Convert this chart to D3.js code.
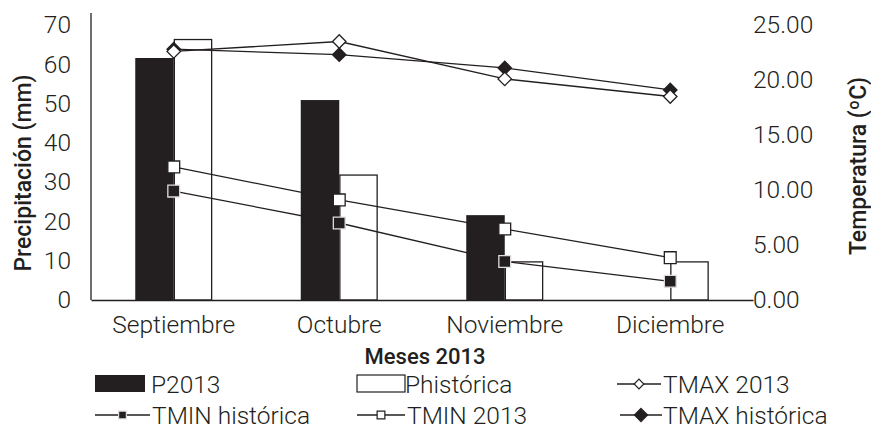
<!DOCTYPE html>
<html><head><meta charset="utf-8">
<script src="https://cdn.jsdelivr.net/npm/d3@7"></script>
<style>
body{margin:0;background:#fff;}
text{font-family:Roboto,"Noto Sans",sans-serif;fill:#231f20;}
</style></head>
<body><svg id="c" width="871" height="436"></svg>
<script>
const months = ["Septiembre","Octubre","Noviembre","Diciembre"];
const p2013 = [61.6, 50.9, 21.6, 0];
const pHist = [66.3, 31.8, 9.7, 9.7];
const tmax2013 = [22.6, 23.5, 20.1, 18.5];
const tmaxHist = [22.8, 22.3, 21.1, 19.1];
const tmin2013 = [12.1, 9.1, 6.45, 3.85];
const tminHist = [9.9, 7.0, 3.5, 1.7];
const leftTicks = [0,10,20,30,40,50,60,70];
const rightTicks = [0,5,10,15,20,25];

const ink = "#231f20";
const svg = d3.select("#c");
const L = 91, R = 753, B = 300, T = 25;
const FS = "24.5px";
const x = d3.scaleBand().domain(months).range([L, R]);
const yP = d3.scaleLinear().domain([0,70]).range([B, T]);
const yT = d3.scaleLinear().domain([0,25]).range([B, T]);
const barW = x.bandwidth()*0.2326;
const cx = m => x(m) + x.bandwidth()/2;

// bars
svg.append("g").selectAll("rect").data(months).join("rect")
  .attr("x", m => cx(m) - barW).attr("width", barW)
  .attr("y", (m,i) => yP(p2013[i])).attr("height", (m,i) => B - yP(p2013[i]))
  .attr("fill", ink);
svg.append("g").selectAll("rect").data(months).join("rect")
  .attr("x", m => cx(m)+0.6).attr("width", barW-1.2)
  .attr("y", (m,i) => yP(pHist[i])).attr("height", (m,i) => B - yP(pHist[i]))
  .attr("fill", "#fff").attr("stroke", ink).attr("stroke-width", 1.3);

// axes
const gl = svg.append("g").attr("transform", `translate(${L},0)`)
  .call(d3.axisLeft(yP).tickValues(leftTicks).tickSize(0).tickPadding(20));
gl.select(".domain").remove();
gl.selectAll("text").style("font-size",FS).style("font-weight",300).attr("fill",ink);
svg.append("line").attr("x1",L).attr("x2",L).attr("y1",13).attr("y2",B).attr("stroke",ink).attr("stroke-width",1.3);

const gr = svg.append("g").attr("transform", `translate(${R},0)`)
  .call(d3.axisRight(yT).tickValues(rightTicks).tickSize(0).tickPadding(0).tickFormat(d3.format(".2f")));
gr.select(".domain").remove();
gr.selectAll("text").style("font-size",FS).style("font-weight",300).attr("fill",ink);

const gx = svg.append("g").attr("transform", `translate(0,${B})`)
  .call(d3.axisBottom(x).tickSize(0).tickPadding(16));
gx.select(".domain").attr("stroke",ink).attr("stroke-width",1.3);
gx.selectAll("text").style("font-size",FS).style("font-weight",300).attr("fill",ink);

// titles
svg.append("text").attr("transform","translate(31,173) rotate(-90)").attr("text-anchor","middle")
  .style("font-size","23px").style("font-weight",500).text("Precipitación (mm)");
svg.append("text").attr("transform","translate(866,166) rotate(-90)").attr("text-anchor","middle")
  .style("font-size","23px").style("font-weight",500).text("Temperatura (ºC)");
svg.append("text").attr("x",425).attr("y",364).attr("text-anchor","middle")
  .style("font-size","22px").style("font-weight",500).text("Meses 2013");

// lines
const line = d3.line().x((d,i)=>cx(months[i])).y(d=>yT(d));
const series = [
  {v:tminHist, m:"sq", f:ink, s:"#ddd"},
  {v:tmin2013, m:"sq", f:"#fff", s:ink},
  {v:tmaxHist, m:"di", f:ink, s:ink},
  {v:tmax2013, m:"di", f:"#fff", s:ink}
];
series.forEach(s=>{
  svg.append("path").attr("d", line(s.v)).attr("fill","none").attr("stroke",ink).attr("stroke-width",1.3);
});
const sym = {sq: d3.symbol().type(d3.symbolSquare).size(140), di: d3.symbol().type(d3.symbolDiamond2).size(115)};
series.forEach(s=>{
  svg.append("g").selectAll("path").data(s.v).join("path")
    .attr("transform",(d,i)=>`translate(${cx(months[i])},${yT(d)})`)
    .attr("d", s.m==="sq" ? sym.sq() : sym.di())
    .attr("fill", s.f).attr("stroke", s.s).attr("stroke-width", 1.3);
});

// legend
const lg = svg.append("g");
function ltext(xp, yp, t){ lg.append("text").attr("x",xp).attr("y",yp).style("font-size",FS).style("font-weight",300).text(t); }
lg.append("rect").attr("x",95).attr("y",375).attr("width",50).attr("height",17).attr("fill",ink);
ltext(151, 393, "P2013");
lg.append("rect").attr("x",357).attr("y",375).attr("width",48).attr("height",17).attr("fill","#fff").attr("stroke",ink).attr("stroke-width",1.2);
ltext(405, 393, "Phistórica");
function lline(x1,x2,yp,type,fill,stroke,size){
  lg.append("line").attr("x1",x1).attr("x2",x2).attr("y1",yp).attr("y2",yp).attr("stroke",ink).attr("stroke-width",1.3);
  lg.append("path").attr("transform",`translate(${(x1+x2)/2},${yp})`)
    .attr("d", d3.symbol().type(type).size(size)()).attr("fill",fill).attr("stroke",stroke).attr("stroke-width",1.2);
}
lline(617,661,384,d3.symbolDiamond2,"#fff",ink,60);
ltext(663, 393, "TMAX 2013");
lline(95,150,415,d3.symbolSquare,ink,"#ddd",60);
ltext(152, 424, "TMIN histórica");
lline(357,405,415,d3.symbolSquare,"#fff",ink,60);
ltext(407, 424, "TMIN 2013");
lline(620,662,415,d3.symbolDiamond2,ink,ink,110);
ltext(663, 424, "TMAX histórica");
</script></body></html>
